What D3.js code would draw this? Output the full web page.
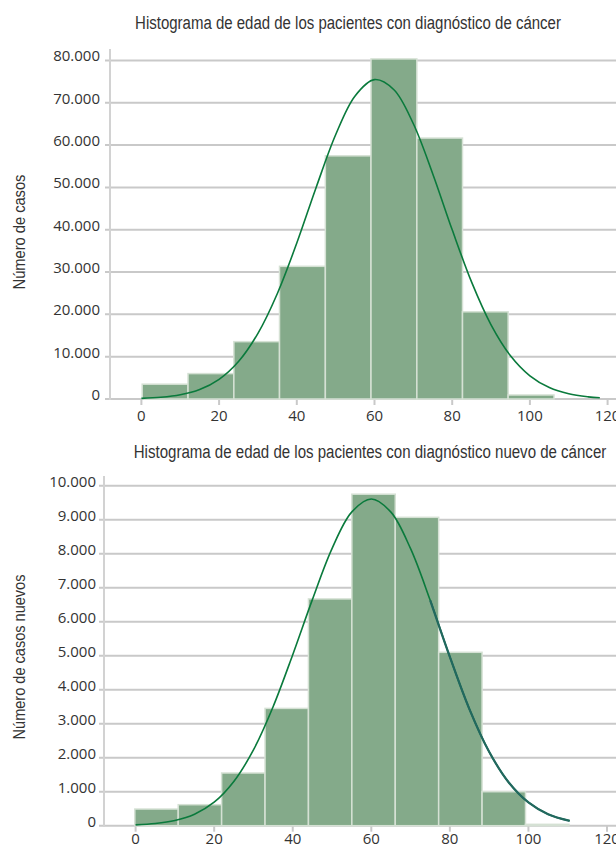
<!DOCTYPE html>
<html>
<head>
<meta charset="utf-8">
<script src="https://cdn.jsdelivr.net/npm/d3@7"></script>
<style>
  body { margin: 0; background: #fff; }
  svg { display: block; }
</style>
</head>
<body>
<script>
// ---------- DATA ----------
const xTicks = [0, 20, 40, 60, 80, 100, 120];

// Top chart: all patients with cancer diagnosis
const topTitle = "Histograma de edad de los pacientes con diagnóstico de cáncer";
const topYTitle = "Número de casos";
const topYTicks = [0, 10000, 20000, 30000, 40000, 50000, 60000, 70000, 80000];
const topBinEdges = [0.2, 12.0, 23.8, 35.55, 47.35, 59.1, 70.9, 82.65, 94.4, 106.2];
const topCounts = [3500, 6000, 13550, 31350, 57450, 80350, 61650, 20600, 950];
const topCurveX = [0, 5, 10, 15, 20, 25, 30, 35, 40, 45, 50, 55, 60, 65, 70, 75, 80, 85, 90, 95, 100, 105, 110, 115, 118];
const topCurveY = [152, 406, 997, 2248, 4657, 8866, 15508, 24939, 36852, 50043, 62440, 71605, 75455, 73070, 65030, 53180, 39970, 27603, 17524, 10215, 5477, 2698, 1221, 507, 288];

// Bottom chart: new diagnoses
const botTitle = "Histograma de edad de los pacientes con diagnóstico nuevo de cáncer";
const botYTitle = "Número de casos nuevos";
const botYTicks = [0, 1000, 2000, 3000, 4000, 5000, 6000, 7000, 8000, 9000, 10000];
const botBinEdges = [-0.2, 10.85, 21.9, 32.95, 44.0, 55.05, 66.1, 77.15, 88.2, 99.25, 110.3];
const botCounts = [490, 618, 1550, 3450, 6670, 9750, 9070, 5100, 1000, 40];
const botCurveX = [0, 5, 10, 15, 20, 25, 30, 35, 40, 45, 50, 55, 60, 65, 70, 75, 80, 85, 90, 95, 100, 105, 110.5];
const botCurveY = [25, 65, 155, 339, 690, 1300, 2230, 3500, 5030, 6650, 8150, 9222, 9610, 9222, 8147, 6628, 4965, 3423, 2174, 1271, 684, 339, 143];

// ---------- DRAW ----------
const W = 616, H = 848;
const esFmt = d3.formatLocale({decimal: ",", thousands: ".", grouping: [3], currency: ["", "€"]}).format(",d");

const svg = d3.select("body").append("svg")
  .attr("width", W).attr("height", H)
  .attr("viewBox", `0 0 ${W} ${H}`);

const GRID = "#c9c9c9";
const BAR = "#84aa8a";
const BAR_STROKE = "#d5e1d4";
const CURVE = "#0a7a3c";
const CURVE2 = "#22685f";
const TXT = "#333333";
const TITLE_FONT = "'Liberation Sans',Arial,sans-serif";
const TICK_FONT = "'Open Sans','Noto Sans',sans-serif";

// condensed text: render at a given size, then squeeze horizontally to the reference width
function condensedText(parent, str, cx, cy, size, width, rotate) {
  const g = parent.append("g");
  const inner = g.append("g");
  const t = inner.append("text")
    .attr("x", 0).attr("y", 0)
    .attr("text-anchor", "middle")
    .attr("font-family", TITLE_FONT).attr("font-size", size)
    .attr("fill", TXT).text(str);
  const w = t.node().getComputedTextLength();
  const sx = w > 0 ? width / w : 1;
  inner.attr("transform", `scale(${sx.toFixed(4)},1)`);
  g.attr("transform", `translate(${cx},${cy})` + (rotate ? ` rotate(${rotate})` : ""));
}

function drawChart(c) {
  const g = svg.append("g");
  const x = d3.scaleLinear().domain([0, 120]).range(c.xRange);
  const y = d3.scaleLinear().domain([0, c.yMax]).range(c.yRange);

  condensedText(g, c.title, c.titleX, c.titleY, c.titleSize, c.titleW, 0);
  condensedText(g, c.yTitle, c.yTitleX, c.yTitleY, c.yTitleSize, c.yTitleW, -90);

  // gridlines
  g.append("g").selectAll("line").data(c.yTicks).join("line")
    .attr("x1", c.axisX - 5).attr("x2", W)
    .attr("y1", d => y(d)).attr("y2", d => y(d))
    .attr("stroke", GRID).attr("stroke-width", 2);

  // y axis line
  g.append("line")
    .attr("x1", c.axisX).attr("x2", c.axisX)
    .attr("y1", c.axisTop).attr("y2", y(0) + 1)
    .attr("stroke", "#d2d2d2").attr("stroke-width", 2);

  // y tick labels
  g.append("g").selectAll("text").data(c.yTicks).join("text")
    .attr("x", c.yLabelX).attr("y", d => y(d) + 1)
    .attr("text-anchor", "end")
    .attr("font-family", TICK_FONT).attr("font-size", 15)
    .attr("fill", TXT).text(d => esFmt(d));

  // x ticks
  g.append("g").selectAll("line").data(xTicks).join("line")
    .attr("x1", d => x(d)).attr("x2", d => x(d))
    .attr("y1", y(0)).attr("y2", y(0) + 6)
    .attr("stroke", GRID).attr("stroke-width", 2);

  g.append("g").selectAll("text").data(xTicks).join("text")
    .attr("x", d => x(d)).attr("y", c.xLabelY)
    .attr("text-anchor", "middle")
    .attr("font-family", TICK_FONT).attr("font-size", 15)
    .attr("fill", TXT).text(d => d);

  // bars
  const bins = c.counts.map((v, i) => ({x0: c.edges[i], x1: c.edges[i + 1], v}));
  g.append("g").selectAll("rect").data(bins).join("rect")
    .attr("x", d => x(d.x0))
    .attr("width", d => x(d.x1) - x(d.x0))
    .attr("y", d => y(d.v))
    .attr("height", d => y(0) - y(d.v))
    .attr("fill", BAR).attr("stroke", BAR_STROKE).attr("stroke-width", 1.5);

  // curve
  const pts = c.curveX.map((v, i) => [v, c.curveY[i]]);
  const line = d3.line().x(d => x(d[0])).y(d => y(d[1])).curve(d3.curveCatmullRom);
  g.append("path").datum(pts).attr("d", line)
    .attr("fill", "none").attr("stroke", CURVE).attr("stroke-width", 1.6);
  if (c.tealFrom != null) {
    const idx = c.curveX.findIndex(v => v >= c.tealFrom);
    g.append("path").datum(pts.slice(idx - 1)).attr("d", line)
      .attr("fill", "none").attr("stroke", CURVE2).attr("stroke-width", 2.2);
  }
}

drawChart({
  title: topTitle, titleX: 348, titleY: 29, titleSize: 19, titleW: 426,
  yTitle: topYTitle, yTitleX: 25, yTitleY: 232, yTitleSize: 17, yTitleW: 115,
  xRange: [141.4, 607.6], yMax: 80000, yRange: [399, 60.4],
  axisX: 110, axisTop: 49, yLabelX: 100, xLabelY: 421,
  yTicks: topYTicks, edges: topBinEdges, counts: topCounts,
  curveX: topCurveX, curveY: topCurveY, tealFrom: null
});

drawChart({
  title: botTitle, titleX: 370, titleY: 458, titleSize: 19, titleW: 473,
  yTitle: botYTitle, yTitleX: 25, yTitleY: 657, yTitleSize: 17, yTitleW: 165,
  xRange: [135.6, 607], yMax: 10000, yRange: [825.7, 485.7],
  axisX: 104, axisTop: 476, yLabelX: 96, xLabelY: 844,
  yTicks: botYTicks, edges: botBinEdges, counts: botCounts,
  curveX: botCurveX, curveY: botCurveY, tealFrom: 78
});
</script>
</body>
</html>
